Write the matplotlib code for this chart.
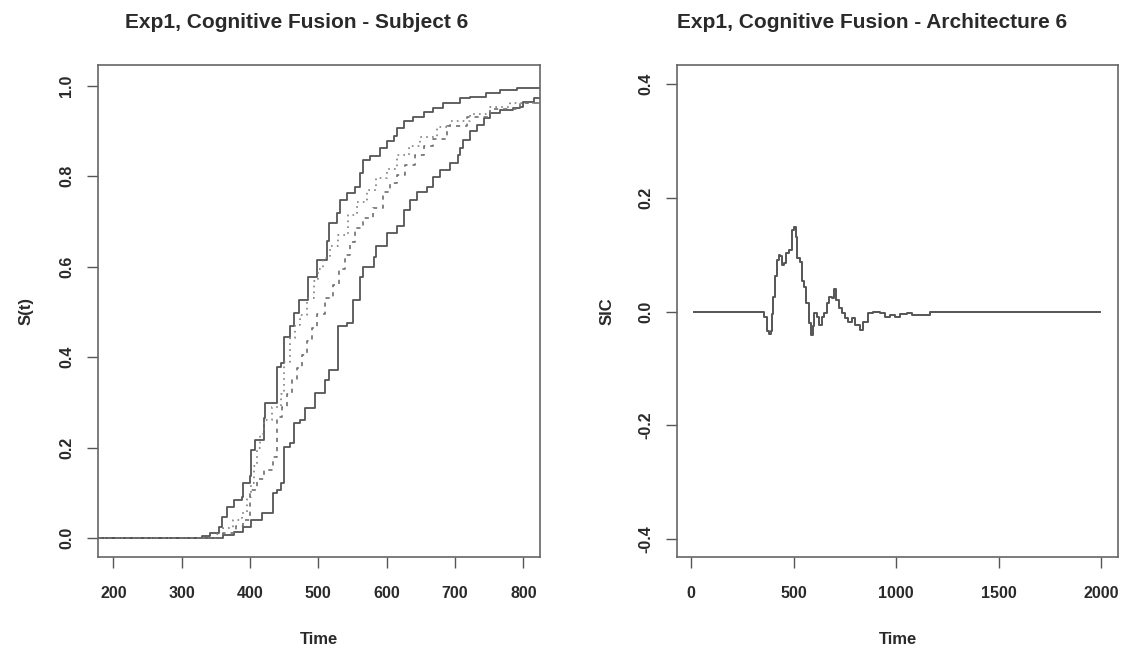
import matplotlib
matplotlib.use('Agg')
import matplotlib.pyplot as plt

plt.rcParams['font.family'] = ['Liberation Sans', 'DejaVu Sans']
plt.rcParams['font.weight'] = 'bold'

# left panel: survivor curves (step functions)
t_upper = [178, 330, 341, 354, 359, 366, 376, 388, 390, 400, 402, 407, 420, 422, 439, 446, 449, 459,
           464, 471, 485, 498, 512, 515, 527, 532, 542, 554, 561, 566, 576, 590, 600, 610, 615, 625,
           639, 654, 668, 683, 707, 722, 746, 766, 790, 830]
s_upper = [0.0, 0.004, 0.010, 0.025, 0.047, 0.069, 0.084, 0.091, 0.121, 0.136, 0.195, 0.217, 0.265,
           0.298, 0.379, 0.386, 0.445, 0.468, 0.497, 0.527, 0.578, 0.615, 0.656, 0.696, 0.718, 0.748,
           0.763, 0.777, 0.807, 0.836, 0.844, 0.862, 0.877, 0.888, 0.906, 0.921, 0.932, 0.943, 0.951,
           0.962, 0.973, 0.976, 0.984, 0.991, 0.995, 0.995]

t_lower = [178, 361, 376, 390, 402, 417, 434, 439, 446, 449, 459, 464, 473, 481, 495, 510, 515, 529,
           542, 551, 561, 566, 581, 585, 600, 615, 625, 634, 644, 659, 668, 678, 693, 705, 707, 712,
           722, 732, 742, 751, 766, 785, 795, 800, 815, 830]
s_lower = [0.0, 0.007, 0.014, 0.025, 0.040, 0.055, 0.099, 0.106, 0.121, 0.202, 0.209, 0.254, 0.261,
           0.287, 0.320, 0.350, 0.372, 0.468, 0.475, 0.527, 0.578, 0.600, 0.622, 0.645, 0.674, 0.689,
           0.726, 0.748, 0.766, 0.777, 0.799, 0.814, 0.829, 0.847, 0.862, 0.881, 0.899, 0.914, 0.928,
           0.940, 0.947, 0.951, 0.954, 0.965, 0.973, 0.975]

t_dot = [178, 352, 361, 375, 388, 396, 402, 406, 410, 415, 420, 432, 446, 450, 459, 466, 473, 483,
         493, 500, 507, 517, 529, 544, 556, 571, 585, 600, 615, 632, 649, 673, 693, 722, 751, 780, 830]
s_dot = [0.0, 0.008, 0.022, 0.040, 0.055, 0.090, 0.121, 0.160, 0.200, 0.230, 0.260, 0.290, 0.319,
         0.390, 0.443, 0.470, 0.494, 0.530, 0.568, 0.595, 0.619, 0.645, 0.670, 0.714, 0.744, 0.769,
         0.795, 0.817, 0.846, 0.866, 0.886, 0.908, 0.923, 0.938, 0.952, 0.963, 0.971]

t_dash = [178, 361, 380, 390, 400, 410, 420, 434, 439, 447, 454, 461, 468, 476, 483, 490, 498, 510,
          522, 530, 539, 546, 554, 566, 580, 595, 605, 615, 627, 641, 655, 668, 688, 717, 751, 795, 830]
s_dash = [0.0, 0.011, 0.026, 0.040, 0.106, 0.130, 0.150, 0.180, 0.267, 0.290, 0.319, 0.350, 0.377,
          0.405, 0.436, 0.465, 0.495, 0.530, 0.560, 0.595, 0.626, 0.655, 0.685, 0.708, 0.729, 0.766,
          0.785, 0.802, 0.825, 0.846, 0.866, 0.883, 0.912, 0.930, 0.949, 0.963, 0.971]

# right panel: SIC curve
t_sic = [16, 345, 357, 370, 378, 389, 394, 402, 410, 418, 427, 435, 443, 454, 464, 480, 491, 503,
         513, 519, 532, 540, 551, 561, 573, 584, 594, 600, 613, 626, 637, 649, 662, 675, 686, 699,
         707, 719, 735, 751, 767, 783, 800, 824, 840, 865, 889, 921, 946, 970, 994, 1019, 1051,
         1075, 1148, 1165, 1992]
sic = [0.0, 0.0, -0.010, -0.035, -0.040, -0.035, -0.005, 0.026, 0.062, 0.091, 0.100, 0.097, 0.082,
       0.085, 0.103, 0.108, 0.144, 0.149, 0.132, 0.094, 0.088, 0.053, 0.044, 0.015, -0.021, -0.041,
       -0.026, -0.003, -0.009, -0.023, -0.009, -0.003, 0.015, 0.026, 0.023, 0.039, 0.021, 0.006,
       -0.003, -0.012, -0.019, -0.012, -0.023, -0.033, -0.018, -0.003, -0.001, -0.002, -0.009,
       -0.006, -0.009, -0.004, -0.002, -0.006, -0.006, 0.0, 0.0]

ink = '#2a2a2a'
line = '#555555'

fig = plt.figure(figsize=(11.31, 6.51), dpi=100)
ax1 = fig.add_axes([0.0867, 0.1444, 0.3908, 0.7558])
ax2 = fig.add_axes([0.5986, 0.1444, 0.3899, 0.7558])

ax1.step(t_upper, s_upper, where='post', color=line, lw=1.3)
ax1.step(t_lower, s_lower, where='post', color=line, lw=1.3)
ax1.step(t_dot, s_dot, where='post', color='#808080', lw=1.2, linestyle=(0, (1, 2.5)))
ax1.step(t_dash, s_dash, where='post', color='#707070', lw=1.2, linestyle=(0, (2.5, 3)))
ax1.set_xlim(177.6, 824.4)
ax1.set_ylim(-0.042, 1.046)
ax1.set_xticks([200, 300, 400, 500, 600, 700, 800])
ax1.set_yticks([0.0, 0.2, 0.4, 0.6, 0.8, 1.0])
ax1.set_yticklabels(['0.0', '0.2', '0.4', '0.6', '0.8', '1.0'])
ax1.set_xlabel('Time', fontsize=12, color=ink, labelpad=22, fontweight='bold')
ax1.set_ylabel('S(t)', fontsize=12, color=ink, labelpad=19, fontweight='bold')

ax2.step(t_sic, sic, where='post', color=line, lw=1.4)
ax2.set_xlim(-68, 2081)
ax2.set_ylim(-0.432, 0.434)
ax2.set_xticks([0, 500, 1000, 1500, 2000])
ax2.set_yticks([-0.4, -0.2, 0.0, 0.2, 0.4])
ax2.set_yticklabels(['-0.4', '-0.2', '0.0', '0.2', '0.4'])
ax2.set_xlabel('Time', fontsize=12, color=ink, labelpad=22, fontweight='bold')
ax2.set_ylabel('SIC', fontsize=12, color=ink, labelpad=17, fontweight='bold')

# titles sit a little left of the panel centres, as in the scan
fig.text(0.2626, 0.966, 'Exp1, Cognitive Fusion - Subject 6', fontsize=15, color=ink,
         fontweight='bold', ha='center', va='center')
fig.text(0.771, 0.966, 'Exp1, Cognitive Fusion - Architecture 6', fontsize=15, color=ink,
         fontweight='bold', ha='center', va='center')

for ax in (ax1, ax2):
    for sp in ax.spines.values():
        sp.set_color('#666666')
        sp.set_linewidth(1.2)
    ax.tick_params(direction='out', length=8, width=1, color='#555555', labelcolor=ink,
                   labelsize=11.5)
    ax.tick_params(axis='x', pad=13)
    ax.tick_params(axis='y', pad=9)
    for lab in ax.get_yticklabels():
        lab.set_rotation(90)
        lab.set_va('center')

plt.savefig('out.png', dpi=100)
